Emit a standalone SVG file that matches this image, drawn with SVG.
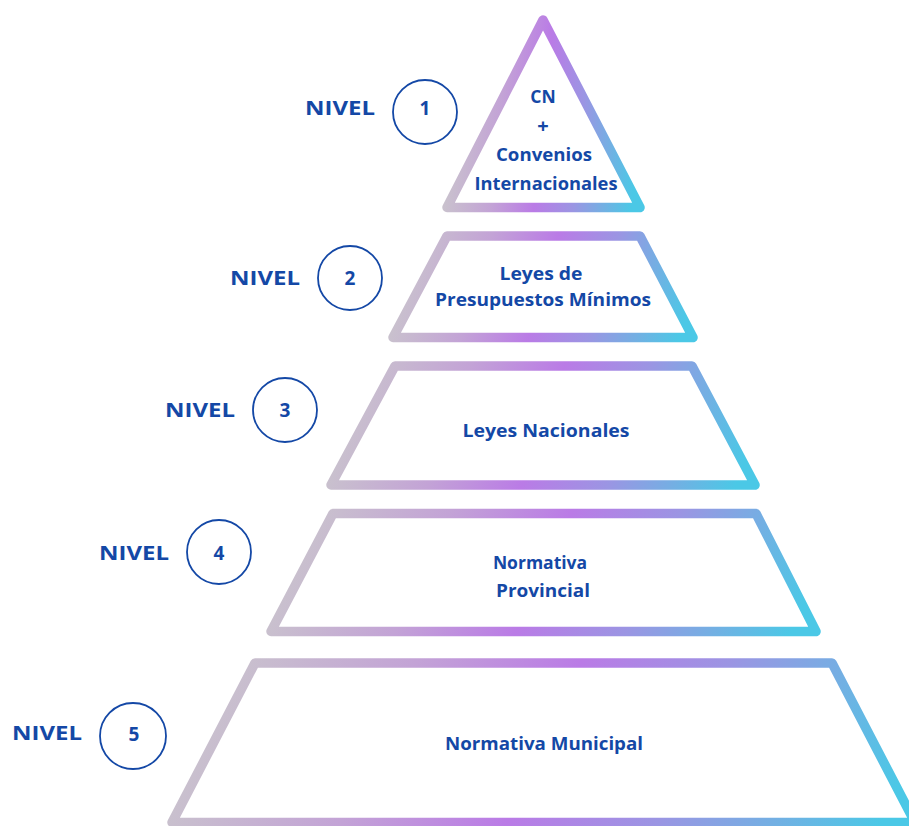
<svg xmlns="http://www.w3.org/2000/svg" width="909" height="826" viewBox="0 0 909 826">
  <defs>
    <linearGradient id="g" x1="0" y1="0.45" x2="1" y2="0.55">
      <stop offset="0" stop-color="#cac6cc"/>
      <stop offset="0.28" stop-color="#c3a3d6"/>
      <stop offset="0.5" stop-color="#ba7be6"/>
      <stop offset="0.7" stop-color="#9b95e3"/>
      <stop offset="0.86" stop-color="#72b0e3"/>
      <stop offset="1" stop-color="#4bc8e6"/>
    </linearGradient>
    <style>
      .shape { fill: #ffffff; stroke: url(#g); stroke-width: 9.5; stroke-linejoin: round; }
      .circ { fill: none; stroke: #1448a6; stroke-width: 1.8; }
      text { font-family: "Open Sans", "Liberation Sans", sans-serif; font-weight: 700; fill: #1448a6; }
      .lbl { font-size: 19px; text-anchor: end; }
      .num { font-size: 19px; text-anchor: middle; }
      .t { font-size: 17.5px; text-anchor: middle; }
    </style>
  </defs>
  <rect width="909" height="826" fill="#ffffff"/>

  <g id="level1">
    <polygon class="shape" points="543,20 640,207.5 447,207.5"/>
    <text class="t" x="543" y="103">CN</text>
    <text class="t" x="543" y="133" style="font-size:20px">+</text>
    <text class="t" x="544" y="161" textLength="96" lengthAdjust="spacingAndGlyphs">Convenios</text>
    <text class="t" x="546" y="190" textLength="143" lengthAdjust="spacingAndGlyphs">Internacionales</text>
    <text class="lbl" x="375" y="115" textLength="70" lengthAdjust="spacingAndGlyphs">NIVEL</text>
    <circle class="circ" cx="425" cy="112" r="32"/>
    <text class="num" x="425" y="115">1</text>
  </g>

  <g id="level2">
    <polygon class="shape" points="447,236 640,236 693,337.5 393,337.5"/>
    <text class="t" x="541" y="280" textLength="83" lengthAdjust="spacingAndGlyphs">Leyes de</text>
    <text class="t" x="543" y="306" textLength="216" lengthAdjust="spacingAndGlyphs">Presupuestos Mínimos</text>
    <text class="lbl" x="300" y="285" textLength="70" lengthAdjust="spacingAndGlyphs">NIVEL</text>
    <circle class="circ" cx="350" cy="278" r="32"/>
    <text class="num" x="350" y="285">2</text>
  </g>

  <g id="level3">
    <polygon class="shape" points="395,366 692,366 755,485 331,485"/>
    <text class="t" x="546" y="437" textLength="167" lengthAdjust="spacingAndGlyphs">Leyes Nacionales</text>
    <text class="lbl" x="235" y="417" textLength="70" lengthAdjust="spacingAndGlyphs">NIVEL</text>
    <circle class="circ" cx="285" cy="410" r="32"/>
    <text class="num" x="285" y="417">3</text>
  </g>

  <g id="level4">
    <polygon class="shape" points="333,513.5 756,513.5 816,631.5 271,631.5"/>
    <text class="t" x="540" y="569">Normativa</text>
    <text class="t" x="543" y="597" textLength="94" lengthAdjust="spacingAndGlyphs">Provincial</text>
    <text class="lbl" x="169" y="560" textLength="70" lengthAdjust="spacingAndGlyphs">NIVEL</text>
    <circle class="circ" cx="219" cy="552" r="32"/>
    <text class="num" x="219" y="560">4</text>
  </g>

  <g id="level5">
    <polygon class="shape" points="255,663 832,663 915,822.5 172,822.5"/>
    <text class="t" x="544" y="750" textLength="198" lengthAdjust="spacingAndGlyphs">Normativa Municipal</text>
    <text class="lbl" x="82" y="740" textLength="70" lengthAdjust="spacingAndGlyphs">NIVEL</text>
    <circle class="circ" cx="133" cy="736" r="33"/>
    <text class="num" x="134" y="741">5</text>
  </g>

  <g id="connectors"></g>
</svg>
